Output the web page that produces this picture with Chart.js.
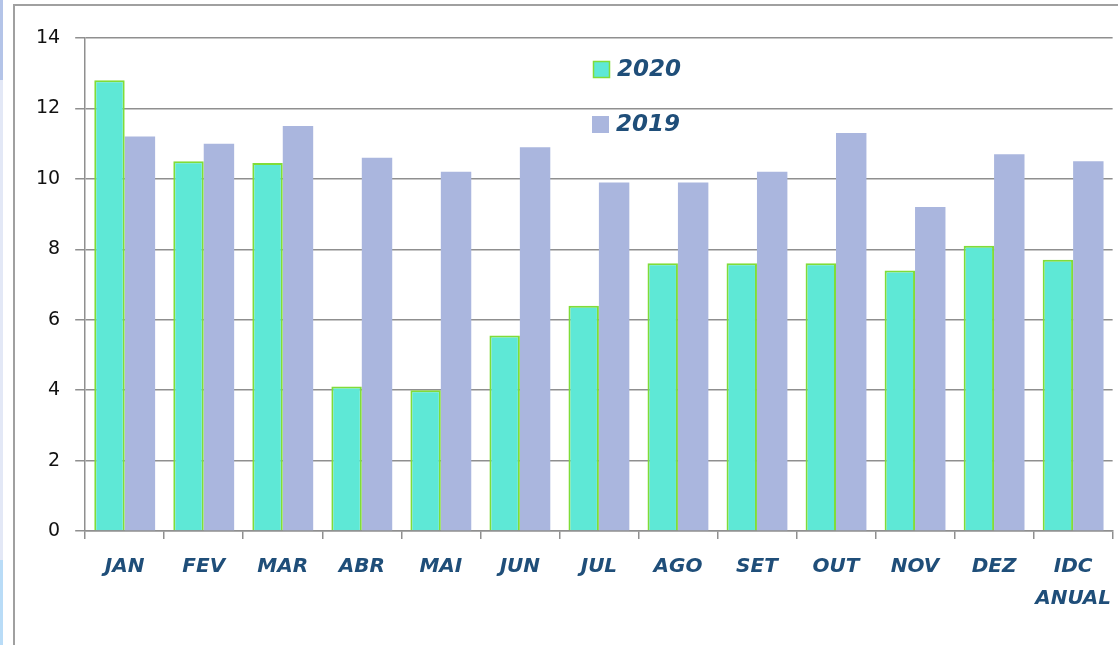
<!DOCTYPE html>
<html lang="pt">
<head>
    <meta charset="UTF-8" />
    <title>2020 x 2019</title>
    <script src="https://cdn.jsdelivr.net/npm/chart.js"></script>
    <style>
        html, body {
            margin: 0;
            padding: 0;
            background: #fff;
        }

        .wrap {
            position: relative;
            width: 1118px;
            height: 645px;
            overflow: hidden;
        }

        .strip {
            position: absolute;
            left: 0;
            top: 0;
            width: 3px;
            height: 645px;
            background: linear-gradient(#b4c4e8 0 80px, #e3e8f6 80px 560px, #b9dcf7 560px);
        }

        .frame {
            position: absolute;
            left: 13px;
            top: 4px;
            right: -10px;
            bottom: -10px;
            border-left: 2px solid #a0a0a0;
            border-top: 2px solid #a0a0a0;
        }

        canvas {
            position: absolute;
            left: 0;
            top: 0;
        }
    </style>
</head>
<body>
    <div class="wrap">
        <div class="strip"></div>
        <div class="frame"></div>
        <canvas id="chart" width="1123" height="645"></canvas>
    </div>

    <script>
        const categories = ["JAN", "FEV", "MAR", "ABR", "MAI", "JUN", "JUL", "AGO", "SET", "OUT", "NOV", "DEZ", ["IDC", "ANUAL"]];
        const values2020 = [12.8, 10.5, 10.45, 4.1, 4.0, 5.55, 6.4, 7.6, 7.6, 7.6, 7.4, 8.1, 7.7];
        const values2019 = [11.2, 11.0, 11.5, 10.6, 10.2, 10.9, 9.9, 9.9, 10.2, 11.3, 9.2, 10.7, 10.5];
        const yTicks = [0, 2, 4, 6, 8, 10, 12, 14];

        const gridColor = "#8f8f8f";
        const textBlue = "#1f4e79";

        // legend sits inside the plot, two rows far apart
        const insideLegend = {
            id: "insideLegend",
            afterDatasetsDraw(chart) {
                const ctx = chart.ctx;
                const rows = [
                    { x: 593, y: 69 },
                    { x: 592, y: 124 }
                ];
                ctx.save();
                chart.data.datasets.forEach(function (ds, i) {
                    const r = rows[i];
                    ctx.fillStyle = ds.backgroundColor;
                    ctx.fillRect(r.x, r.y - 8, 17, 17);
                    if (ds.borderWidth) {
                        ctx.strokeStyle = ds.borderColor;
                        ctx.lineWidth = 1.5;
                        ctx.strokeRect(r.x + 0.5, r.y - 7.5, 16, 16);
                    }
                    ctx.fillStyle = textBlue;
                    ctx.font = "italic bold 23px 'DejaVu Sans'";
                    ctx.textBaseline = "middle";
                    ctx.textAlign = "left";
                    ctx.fillText(ds.label, r.x + 24, r.y + 1);
                });
                ctx.restore();
            }
        };

        new Chart(document.getElementById("chart"), {
            type: "bar",
            data: {
                labels: categories,
                datasets: [
                    {
                        label: "2020",
                        data: values2020,
                        backgroundColor: "#5ee8d6",
                        borderColor: "#80dc38",
                        borderWidth: 2,
                        categoryPercentage: 0.77,
                        barPercentage: 1.0
                    },
                    {
                        label: "2019",
                        data: values2019,
                        backgroundColor: "#aab6de",
                        borderWidth: 0,
                        categoryPercentage: 0.77,
                        barPercentage: 1.0
                    }
                ]
            },
            options: {
                responsive: false,
                animation: false,
                layout: {
                    padding: { left: 21, top: 38, right: 0, bottom: 18 }
                },
                plugins: {
                    legend: { display: false },
                    tooltip: { enabled: false }
                },
                scales: {
                    x: {
                        offset: true,
                        grid: {
                            display: true,
                            offset: true,
                            drawOnChartArea: false,
                            color: gridColor,
                            lineWidth: 1.5,
                            tickLength: 8
                        },
                        border: { color: gridColor, width: 1.5 },
                        ticks: {
                            color: textBlue,
                            padding: 12,
                            maxRotation: 0,
                            autoSkip: false,
                            font: { family: "DejaVu Sans", size: 20, style: "italic", weight: "bold", lineHeight: 1.6 }
                        }
                    },
                    y: {
                        min: 0,
                        max: 14,
                        afterBuildTicks(axis) {
                            axis.ticks = yTicks.map(function (v) { return { value: v }; });
                        },
                        grid: {
                            color: gridColor,
                            lineWidth: 1.5,
                            tickLength: 10
                        },
                        border: { color: gridColor, width: 1.5 },
                        ticks: {
                            color: "#111",
                            padding: 15,
                            font: { family: "DejaVu Sans", size: 19 }
                        }
                    }
                }
            },
            plugins: [insideLegend]
        });
    </script>
</body>
</html>
